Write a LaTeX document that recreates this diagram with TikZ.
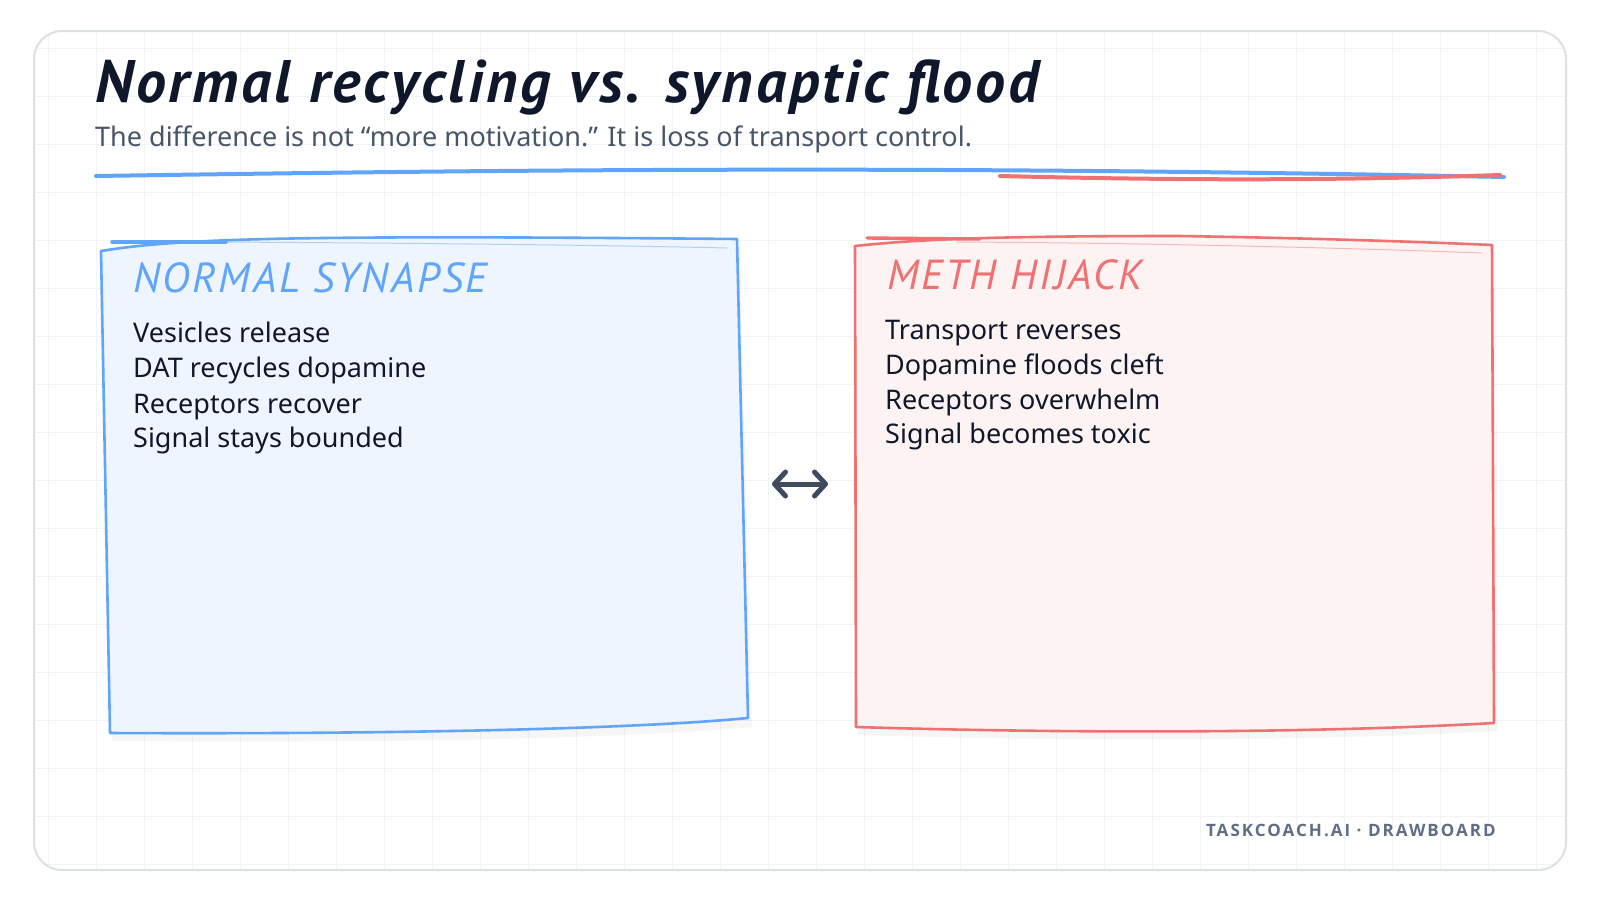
\documentclass[tikz,border=0pt]{standalone}
\usepackage{fontspec}
\setmainfont{Noto Sans}
\newfontfamily\handfont{PT Sans}
\newfontfamily\widehandfont{PT Sans}[LetterSpace=6]
\newfontfamily\titlefont{PT Sans}[LetterSpace=5]
\newfontfamily\footfont{Open Sans}[LetterSpace=12]
\usetikzlibrary{arrows.meta}

\definecolor{inkblue}{HTML}{60A5FA}
\definecolor{inkred}{HTML}{F07171}
\definecolor{fillblue}{HTML}{EEF5FE}
\definecolor{fillred}{HTML}{FEF3F3}
\definecolor{titleink}{HTML}{0F172A}
\definecolor{subink}{HTML}{475569}
\definecolor{footink}{HTML}{5F6E85}
\definecolor{cardedge}{HTML}{DCE0E7}
\definecolor{gridline}{HTML}{F1F3F6}
\definecolor{arrowink}{HTML}{3F4A5C}

\tikzset{
	titletext/.style={anchor=base west, inner sep=0pt, text=titleink, font=\titlefont\bfseries\itshape\fontsize{60}{62}\selectfont},
	subtext/.style={anchor=base west, inner sep=0pt, text=subink, font=\fontsize{27}{30}\selectfont},
	headtext/.style={anchor=base west, inner sep=0pt, font=\widehandfont\itshape\fontsize{42}{44}\selectfont},
	bodytext/.style={anchor=base west, inner sep=0pt, text=titleink, font=\fontsize{27}{30}\selectfont},
	foottext/.style={anchor=base east, inner sep=0pt, text=footink, font=\footfont\bfseries\fontsize{17}{20}\selectfont},
	boxedge/.style={line width=2.6pt, line join=round, line cap=round},
	penstroke/.style={line width=3.4pt, line cap=round},
	faintstroke/.style={line width=1pt, line cap=round, opacity=0.45},
	boxshadow/.style={fill=black, opacity=0.035, draw=none},
	swaparrow/.style={arrowink, line width=5pt, line cap=round, {Straight Barb[round, length=11pt, width=24pt]}-{Straight Barb[round, length=11pt, width=24pt]}}
}

\begin{document}
\begin{tikzpicture}[x=1pt, y=-1pt]
	\useasboundingbox (0,0) rectangle (1600,900);
	\fill [white] (0,0) rectangle (1600,900);
	\fill [white] (34,31) [rounded corners=28pt] rectangle (1566,870);
	\begin{scope}
		\clip [rounded corners=28pt] (34,31) rectangle (1566,870);
		\draw [gridline, line width=1pt] (1,0) grid [step=48pt] (1600,900);
	\end{scope}
	\draw [cardedge, line width=2pt] [rounded corners=28pt] (34,31) rectangle (1566,870);

	\node [titletext] (title) at (95,102) {Normal recycling vs. synaptic flood};
	\node [subtext] (subtitle) at (95,146) {The difference is not “more motivation.” It is loss of transport control.};
	\draw [inkblue, line width=4pt, line cap=round] (96,176) .. controls (500,170) and (900,165) .. (1504,177);
	\draw [inkred, line width=4pt, line cap=round] (1000,176) .. controls (1200,181) and (1350,180) .. (1500,175);

	\fill [boxshadow] (103,259) .. controls (180,244) and (300,241) .. (740,246) -- (752,727) .. controls (600,741) and (300,743) .. (112,741) -- cycle;
	\draw [boxedge, inkblue, fill=fillblue] (101,251) .. controls (180,238) and (300,235) .. (737,239) -- (748,718) .. controls (600,732) and (300,734) .. (110,733) -- cycle;
	\draw [penstroke, inkblue] (112,242) -- (226,242);
	\draw [faintstroke, inkblue] (220,242) .. controls (400,243) and (600,245) .. (727,248);

	\fill [boxshadow] (857,254) .. controls (930,246) and (1000,243) .. (1180,243) .. controls (1300,245) and (1400,248) .. (1496,252) -- (1498,731) .. controls (1300,742) and (1050,741) .. (858,735) -- cycle;
	\draw [boxedge, inkred, fill=fillred] (855,246) .. controls (920,239) and (1000,236) .. (1180,236) .. controls (1300,238) and (1400,241) .. (1492,245) -- (1494,723) .. controls (1300,734) and (1050,733) .. (856,727) -- cycle;
	\draw [penstroke, inkred] (867,238) -- (980,239);
	\draw [faintstroke, inkred] (957,242) .. controls (1150,243) and (1350,248) .. (1482,253);

	\node [headtext, text=inkblue] (normalhead) at (133,292) {NORMAL SYNAPSE};
	\node [bodytext] (normalone) at (133,342) {Vesicles release};
	\node [bodytext] (normaltwo) at (133,377) {DAT recycles dopamine};
	\node [bodytext] (normalthree) at (133,413) {Receptors recover};
	\node [bodytext] (normalfour) at (133,447) {Signal stays bounded};

	\node [headtext, text=inkred] (methhead) at (887,289) {METH HIJACK};
	\node [bodytext] (methone) at (885,339) {Transport reverses};
	\node [bodytext] (methtwo) at (885,374) {Dopamine floods cleft};
	\node [bodytext] (meththree) at (885,409) {Receptors overwhelm};
	\node [bodytext] (methfour) at (885,443) {Signal becomes toxic};

	\coordinate (swapleft) at (772,484);
	\coordinate (swapright) at (828,484);
	\draw [swaparrow] (swapleft) -- (swapright);

	\node [foottext] (footer) at (1496,836) {TASKCOACH.AI · DRAWBOARD};
\end{tikzpicture}
\end{document}
